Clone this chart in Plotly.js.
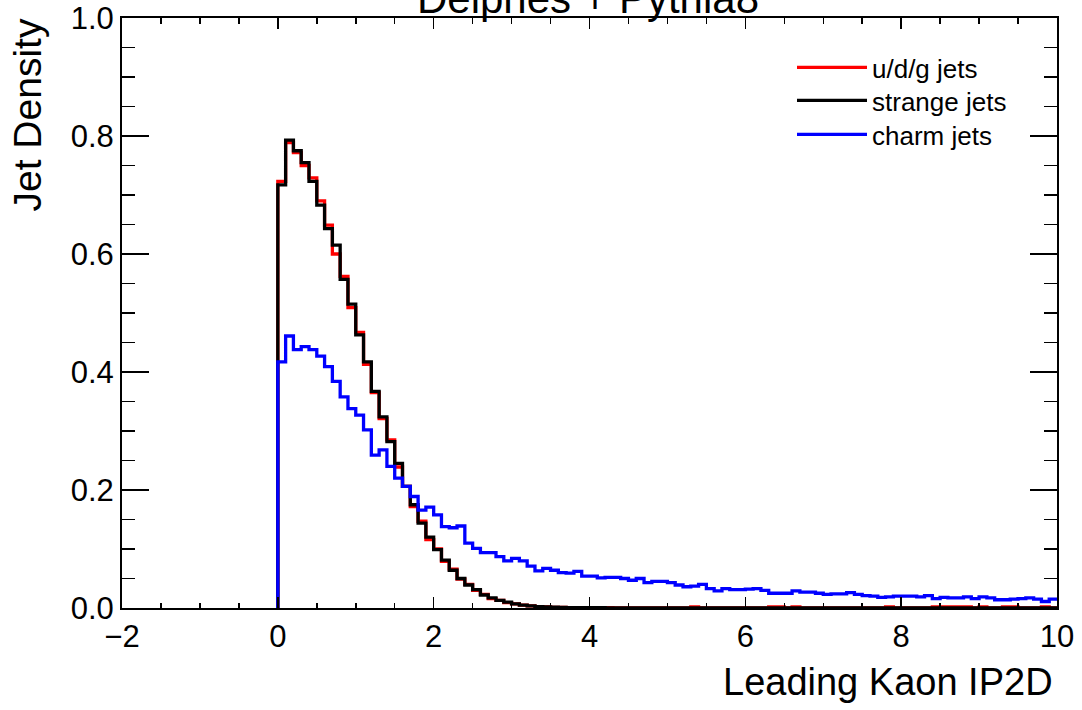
<!DOCTYPE html>
<html>
<head>
<meta charset="utf-8">
<script src="https://cdn.plot.ly/plotly-3.0.1.min.js"></script>
<style>
html,body{margin:0;padding:0;background:#fff;}
#chart{width:1082px;height:710px;}
</style>
</head>
<body>
<div id="chart"></div>
<script>
// Histogram binning (100 bins of width 0.1 starting at 0)
const binStart = 0;
const binWidth = 0.1;

// Series values (bin contents, normalized jet density)
const udgJets = [
  0.723,0.789,0.772,0.750,0.729,0.690,0.649,0.600,0.562,0.509,
  0.467,0.413,0.365,0.321,0.285,0.239,0.206,0.172,0.147,0.116,
  0.100,0.079,0.066,0.049,0.040,0.030,0.023,0.016,0.013,0.009,
  0.007,0.005,0.0035,0.0024,0.0017,0.0012,0.0010,0.0008,0.0006,0.0005,
  0.0005,0.0004,0.0004,0.0003,0.0003,0.0003,0.0002,0.0002,0.0002,0.0002,
  0.0002,0.0002,0.0002,0.0020,0.0002,0.0002,0.0001,0.0001,0.0001,0.0001,
  0.0001,0.0001,0.0001,0.0018,0.0020,0.0001,0.0018,0.0001,0.0001,0.0001,
  0.0001,0.0001,0.0001,0.0001,0.0001,0.0001,0.0001,0.0001,0.0018,0.0001,
  0.0001,0.0001,0.0001,0.0001,0.0018,0.0018,0.0018,0.0018,0.0018,0.0001,
  0.0018,0.0001,0.0001,0.0018,0.0018,0.0001,0.0001,0.0001,0.0018,0.0001
];
const strangeJets = [
  0.717,0.793,0.775,0.755,0.723,0.683,0.643,0.615,0.557,0.515,
  0.463,0.417,0.367,0.324,0.282,0.245,0.206,0.175,0.144,0.120,
  0.099,0.081,0.064,0.050,0.039,0.031,0.022,0.017,0.013,0.010,
  0.007,0.005,0.0035,0.0025,0.0018,0.0013,0.0010,0.0008,0.0006,0.0005,
  0.0004,0.0004,0.0003,0.0003,0.0002,0.0002,0.0002,0.0002,0.0001,0.0001,
  0.0001,0.0001,0.0001,0.0001,0.0001,0.0001,0.0001,0.0001,0.0001,0.0001,
  0.0001,0.0001,0.0001,0.0001,0.0001,0.0001,0.0001,0.0001,0.0001,0.0001,
  0,0,0,0,0,0,0,0,0,0,
  0,0,0,0,0,0,0,0,0,0,
  0,0,0,0,0,0,0,0,0,0
];
const charmJets = [
  0.417,0.461,0.438,0.443,0.438,0.427,0.409,0.384,0.358,0.338,
  0.327,0.302,0.259,0.268,0.240,0.220,0.206,0.189,0.166,0.171,
  0.158,0.138,0.136,0.139,0.110,0.101,0.094,0.094,0.087,0.080,
  0.084,0.080,0.071,0.063,0.067,0.064,0.060,0.059,0.062,0.054,
  0.054,0.051,0.052,0.052,0.050,0.047,0.050,0.043,0.045,0.045,
  0.043,0.039,0.036,0.037,0.040,0.033,0.029,0.033,0.031,0.031,
  0.032,0.033,0.030,0.025,0.025,0.025,0.029,0.027,0.027,0.025,
  0.023,0.024,0.024,0.026,0.023,0.021,0.020,0.018,0.019,0.020,
  0.020,0.020,0.019,0.021,0.016,0.018,0.017,0.017,0.019,0.016,
  0.019,0.017,0.014,0.014,0.015,0.016,0.017,0.015,0.011,0.015
];

const seriesNames = ['u/d/g jets', 'strange jets', 'charm jets'];
const seriesColors = ['#ff0000', '#000000', '#0000ff'];
const legendIds = ['legend', 'legend2', 'legend3'];
const chartTitle = 'Delphes + Pythia8';
const xTitle = 'Leading Kaon IP2D';
const yTitle = 'Jet Density';

// Step-histogram outline: start at baseline at the first edge, then one point per bin edge
function stepTrace(values, name, color, legendId) {
  const x = [];
  for (let i = 0; i <= values.length; i++) {
    x.push(Math.round((binStart + i * binWidth) * 1000) / 1000);
  }
  const y = [0].concat(values);
  return {
    type: 'scatter', mode: 'lines', x: x, y: y, name: name,
    legend: legendId,
    line: {shape: 'vh', color: color, width: 3.3},
    hoverinfo: 'skip'
  };
}

const traces = [
  stepTrace(udgJets, seriesNames[0], seriesColors[0], legendIds[0]),
  stepTrace(strangeJets, seriesNames[1], seriesColors[1], legendIds[1]),
  stepTrace(charmJets, seriesNames[2], seriesColors[2], legendIds[2])
];

const FONT = 'Liberation Sans, Arial, Helvetica, sans-serif';
const L = 122, R = 25, T = 18, B = 102;
const W = 1082, H = 710;
const pw = W - L - R, ph = H - T - B;

// legend entry centres (pixels from top) for each single-entry legend
const legendCentres = [69, 102, 136];
function legendBox(centrePx) {
  return {
    x: (792 - L) / pw, xanchor: 'left',
    y: (H - B - (centrePx - 25)) / ph, yanchor: 'top',
    font: {family: FONT, size: 26, color: '#000000'},
    bgcolor: 'rgba(0,0,0,0)', borderwidth: 0,
    itemwidth: 70
  };
}

const layout = {
  width: W, height: H,
  margin: {l: L, r: R, t: T, b: B, pad: 0},
  paper_bgcolor: '#ffffff',
  plot_bgcolor: '#ffffff',
  font: {family: FONT, color: '#000000'},
  title: {
    text: chartTitle,
    font: {family: FONT, size: 42, color: '#000000'},
    xref: 'container', yref: 'container',
    x: 588 / W, xanchor: 'center',
    y: 1 - 13 / H, yanchor: 'bottom'
  },
  showlegend: true,
  legend: legendBox(legendCentres[0]),
  legend2: legendBox(legendCentres[1]),
  legend3: legendBox(legendCentres[2]),
  xaxis: {
    range: [-2, 10], autorange: false,
    tick0: 0, dtick: 2,
    ticks: 'inside', ticklen: 11, tickwidth: 1.5, tickcolor: '#000000',
    showline: true, linewidth: 2, linecolor: '#000000', mirror: 'allticks',
    showgrid: false, zeroline: false,
    tickfont: {family: FONT, size: 31, color: '#000000'},
    minor: {dtick: 0.5, tick0: 0, ticks: 'inside', ticklen: 5.5, tickwidth: 1.5, tickcolor: '#000000', showgrid: false}
  },
  yaxis: {
    range: [0, 1.0], autorange: false,
    tick0: 0, dtick: 0.2, tickformat: '.1f',
    ticks: 'inside', ticklen: 27, tickwidth: 1.5, tickcolor: '#000000',
    showline: true, linewidth: 2, linecolor: '#000000', mirror: 'allticks',
    showgrid: false, zeroline: false,
    tickfont: {family: FONT, size: 31, color: '#000000'},
    minor: {dtick: 0.05, tick0: 0, ticks: 'inside', ticklen: 13, tickwidth: 1.5, tickcolor: '#000000', showgrid: false}
  },
  annotations: [
    {
      text: xTitle, showarrow: false,
      xref: 'paper', yref: 'paper',
      x: (1055 - L) / pw, xanchor: 'right',
      y: (H - B - 682) / ph, yanchor: 'middle',
      font: {family: FONT, size: 38, color: '#000000'}
    },
    {
      text: yTitle, showarrow: false, textangle: -90,
      xref: 'paper', yref: 'paper',
      x: (27 - L) / pw, xanchor: 'center',
      y: 1 + 1 / ph, yanchor: 'top',
      font: {family: FONT, size: 39, color: '#000000'}
    }
  ]
};

Plotly.newPlot('chart', traces, layout, {staticPlot: true, displayModeBar: false});
</script>
</body>
</html>
